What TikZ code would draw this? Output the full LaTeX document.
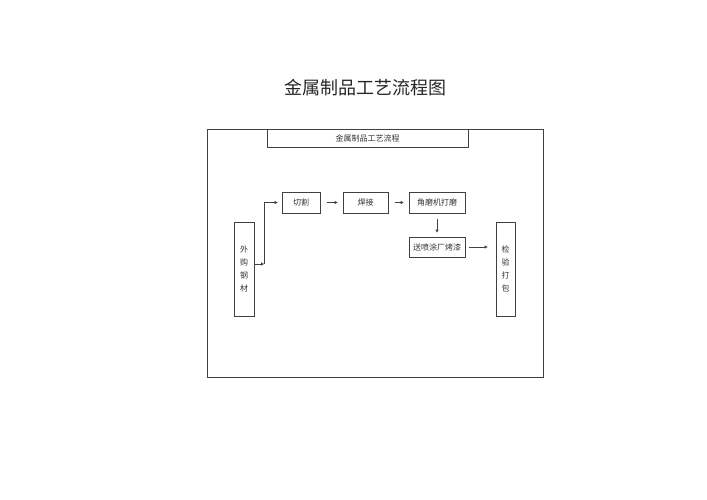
\documentclass[tikz,border=0pt]{standalone}
\usepackage{fontspec}
\newfontfamily\cjk{Noto Sans CJK SC}
\usetikzlibrary{arrows.meta,positioning,calc}

\begin{document}
\begin{tikzpicture}[x=1pt,y=-1pt,
   box/.style={draw=black!75,line width=0.8pt,inner sep=0pt,text=black!80,
      font=\cjk\fontsize{8}{13}\selectfont,align=center},
   link/.style={draw=black!75,line width=0.8pt,-{Triangle[open,length=3pt,width=3.2pt]}}]

\useasboundingbox (0,0) rectangle (707,500);

% frame and titles
\draw[black!75,line width=0.8pt] (207,129) rectangle (543,377);
\node[font=\cjk\fontsize{18}{20}\selectfont,text=black!85] (title) at (365.5,88) {金属制品工艺流程图};
\node[box,minimum width=201pt,minimum height=18pt] (head) at (367.5,138) {金属制品工艺流程};

% process boxes
\node[box,minimum width=20pt,minimum height=94pt] (buy)   at (244,269)   {外\\购\\钢\\材};
\node[box,minimum width=38pt,minimum height=21pt] (cut)   at (301,202.5) {切割};
\node[box,minimum width=45pt,minimum height=21pt] (weld)  at (365.5,202.5) {焊接};
\node[box,minimum width=56pt,minimum height=21pt] (grind) at (437,202.5) {角磨机打磨};
\node[box,minimum width=56pt,minimum height=20pt] (paint) at (437,247)   {送喷涂厂烤漆};
\node[box,minimum width=19pt,minimum height=94pt] (pack)  at (505.5,269) {检\\验\\打\\包};

% connectors
\coordinate (turn) at (264,264);
\draw[link] (buy.east |- turn) -- (turn);
\draw[link] (turn) |- ($(cut.west)+(-4,0)$);
\draw[link,shorten <=7pt,shorten >=5pt] (cut.east) -- (weld.west);
\draw[link,shorten <=7pt,shorten >=5pt] (weld.east) -- (grind.west);
\draw[link,shorten <=6pt,shorten >=4pt] (grind.south) -- (paint.north);
\draw[link,shorten <=4pt,shorten >=8pt] (paint.east) -- (paint.east -| pack.west);

\end{tikzpicture}
\end{document}
